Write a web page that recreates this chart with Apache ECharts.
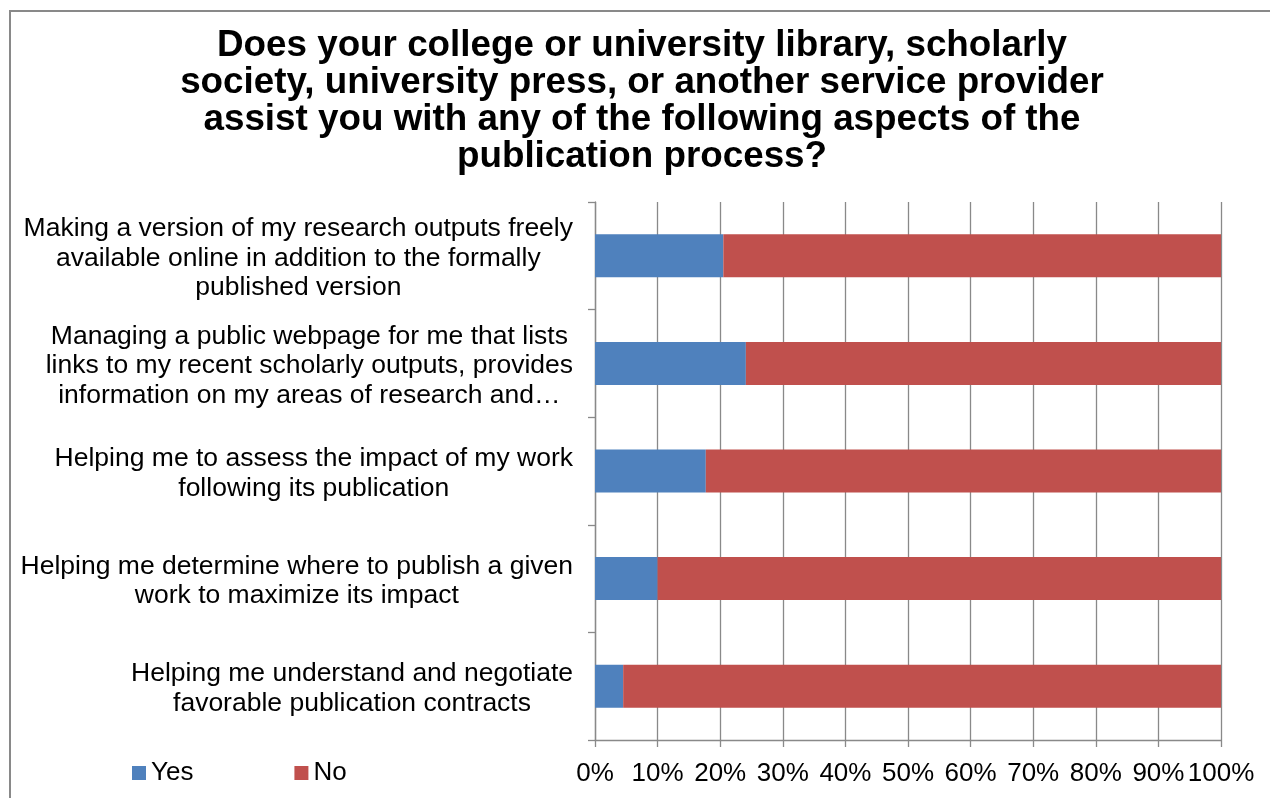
<!DOCTYPE html>
<html>
<head>
<meta charset="utf-8">
<script src="https://cdn.jsdelivr.net/npm/echarts@6/dist/echarts.min.js"></script>
<style>
html,body{margin:0;padding:0;background:#fff;}
#c{width:1270px;height:798px;}
</style>
</head>
<body>
<div id="c"></div>
<script>
const titleLines = [
  "Does your college or university library, scholarly",
  "society, university press, or another service provider",
  "assist you with any of the following aspects of the",
  "publication process?"
];
const categories = [
  "Making a version of my research outputs freely\navailable online in addition to the formally\npublished version",
  "Managing a public webpage for me that lists\nlinks to my recent scholarly outputs, provides\ninformation on my areas of research and…",
  "Helping me to assess the impact of my work\nfollowing its publication",
  "Helping me determine where to publish a given\nwork to maximize its impact",
  "Helping me understand and negotiate\nfavorable publication contracts"
];
const seriesNames = ["Yes", "No"];
const yesValues = [20.5, 24.1, 17.7, 10.0, 4.5];
const noValues = [79.5, 75.9, 82.3, 90.0, 95.5];
const xTicks = [0, 10, 20, 30, 40, 50, 60, 70, 80, 90, 100];

const FONT = '"Liberation Sans", Arial, sans-serif';
const gray = '#898989';

const chart = echarts.init(document.getElementById('c'));
chart.setOption({
  backgroundColor: '#fff',
  animation: false,
  title: {
    text: titleLines.join('\n'),
    left: 637,
    top: 22,
    textAlign: 'center',
    textStyle: {
      fontFamily: FONT, fontSize: 36.8, fontWeight: 'bold', color: '#000', lineHeight: 37.2
    }
  },
  legend: {
    data: seriesNames,
    left: 132,
    top: 760,
    padding: 0,
    itemWidth: 14,
    itemHeight: 14,
    itemGap: 101,
    icon: 'rect',
    textStyle: { fontFamily: FONT, fontSize: 26, color: '#000' }
  },
  grid: { left: 595, right: 49, top: 202, bottom: 58, containLabel: false },
  xAxis: {
    type: 'value',
    min: xTicks[0],
    max: xTicks[xTicks.length - 1],
    interval: 10,
    axisLine: { show: true, lineStyle: { color: gray, width: 1.3 } },
    axisTick: { show: true, length: 7, lineStyle: { color: gray, width: 1.3 } },
    splitLine: { show: true, lineStyle: { color: gray, width: 1.3 } },
    axisLabel: {
      margin: 21,
      fontFamily: FONT, fontSize: 26, color: '#000',
      formatter: v => v + '%'
    }
  },
  yAxis: {
    type: 'category',
    data: categories,
    inverse: true,
    axisLine: { show: true, lineStyle: { color: gray, width: 1.3 } },
    axisTick: { show: true, length: 7, alignWithLabel: false, lineStyle: { color: gray, width: 1.3 } },
    splitLine: { show: false },
    axisLabel: {
      margin: 22,
      align: 'right',
      interval: 0,
      padding: [5, 0, 0, 0],
      fontFamily: FONT, fontSize: 26.5, color: '#000', lineHeight: 29.5,
      formatter: v => v.split('\n').map(l => '{c|' + l + '}').join('\n'),
      rich: {
        c: { align: 'center', fontFamily: FONT, fontSize: 26.5, color: '#000', lineHeight: 29.5 }
      }
    }
  },
  series: [
    {
      name: seriesNames[0], type: 'bar', stack: 's', data: yesValues,
      barWidth: '40%', itemStyle: { color: '#4F81BD' }
    },
    {
      name: seriesNames[1], type: 'bar', stack: 's', data: noValues,
      barWidth: '40%', itemStyle: { color: '#C0504D' }
    }
  ],
  graphic: [{
    type: 'rect',
    shape: { x: 10, y: 11, width: 1300, height: 900 },
    style: { fill: 'none', stroke: gray, lineWidth: 2 },
    silent: true,
    z: 100
  }]
});
</script>
</body>
</html>
